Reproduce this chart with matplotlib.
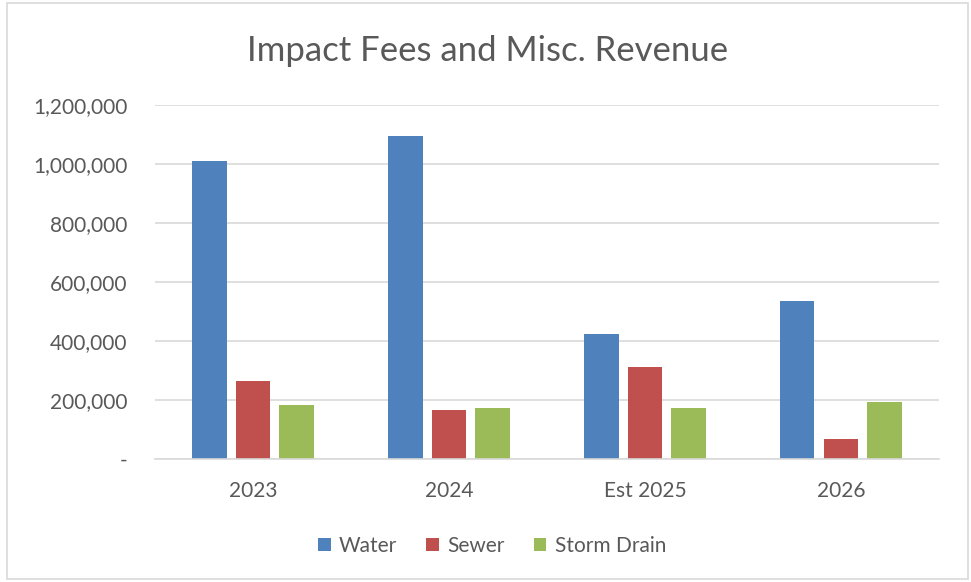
import matplotlib.pyplot as plt
import numpy as np
from matplotlib.patches import Rectangle
from matplotlib.ticker import FuncFormatter

# data
years = ['2023', '2024', 'Est 2025', '2026']
water = [1009000, 1096000, 423000, 535000]
sewer = [265000, 165000, 311000, 67000]
storm = [182000, 174000, 172000, 193000]

plt.rcParams['font.family'] = ['Lato', 'DejaVu Sans']
grey = '#595959'

fig = plt.figure(figsize=(9.71, 5.82), dpi=100)
ax = fig.add_axes([0.1596, 0.2113, 0.8074, 0.6083])

x = np.arange(len(years))
w = 0.174
step = 0.222
ax.bar(x - step, water, w, color='#4F81BD', label='Water')
ax.bar(x, sewer, w, color='#C0504D', label='Sewer')
ax.bar(x + step, storm, w, color='#9BBB59', label='Storm Drain')

ax.set_xlim(-0.5, 3.5)
ax.set_ylim(0, 1200000)
ax.set_yticks(range(0, 1200001, 200000))
ax.yaxis.set_major_formatter(FuncFormatter(lambda v, p: '-' if v == 0 else f'{int(v):,}'))
ax.set_xticks(x)
ax.set_xticklabels(years)

ax.grid(axis='y', color='#D9D9D9', linewidth=1.2)
ax.set_axisbelow(True)
for s in ['top', 'right', 'left']:
    ax.spines[s].set_visible(False)
ax.spines['bottom'].set_color('#D9D9D9')
ax.spines['bottom'].set_linewidth(1.2)
ax.tick_params(axis='both', length=0, labelsize=15, colors=grey)
ax.tick_params(axis='y', pad=20)
ax.tick_params(axis='x', pad=16)

fig.text(0.502, 0.912, 'Impact Fees and Misc. Revenue', ha='center', va='center',
         fontsize=25, color=grey)

ax.legend(loc='center', bbox_to_anchor=(0.43, -0.245), ncol=3, frameon=False,
          fontsize=15, labelcolor=grey, handlelength=0.6, handleheight=0.6,
          handletextpad=0.4, columnspacing=1.4)

fig.patches.append(Rectangle((0.007, 0.005), 0.99, 0.99, transform=fig.transFigure,
                             fill=False, edgecolor='#D9D9D9', linewidth=1.2))

fig.savefig('out.png', dpi=100)
